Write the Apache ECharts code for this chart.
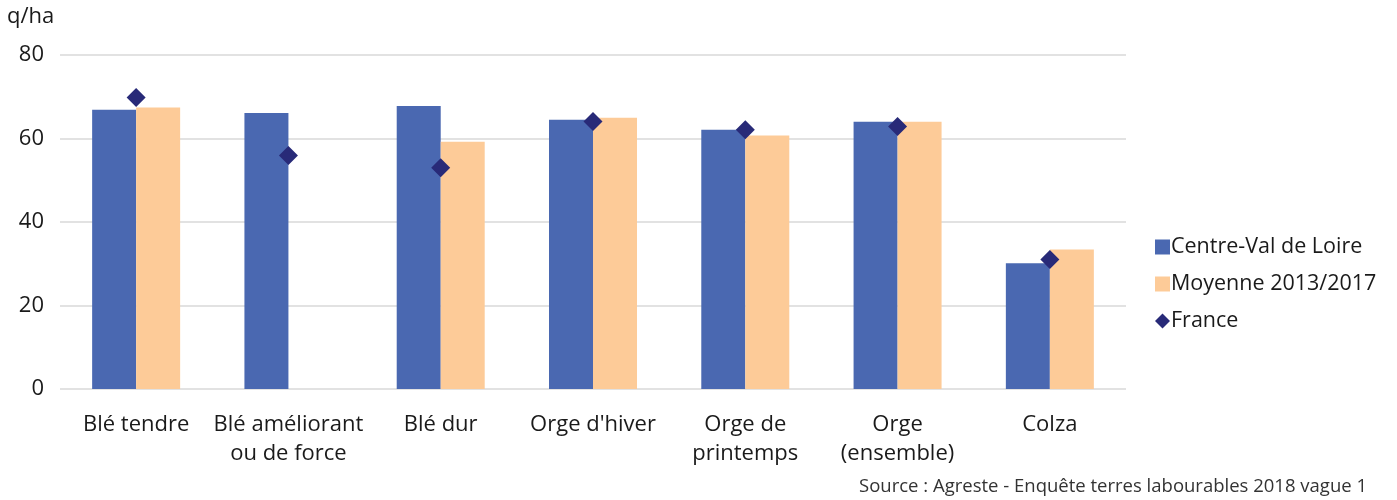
<!DOCTYPE html>
<html><head><meta charset="utf-8">
<script src="https://cdn.jsdelivr.net/npm/echarts@6/dist/echarts.min.js"></script>
<style>html,body{margin:0;padding:0;background:#fff}#c{width:1397px;height:500px}</style>
</head><body><div id="c"></div>
<script>
const categories = ["Blé tendre", "Blé améliorant\nou de force", "Blé dur", "Orge d'hiver", "Orge de\nprintemps", "Orge\n(ensemble)", "Colza"];
const centreValues = [66.9, 66.1, 67.8, 64.5, 62.1, 64.0, 30.1];
const moyenneValues = [67.4, null, 59.2, 65.0, 60.7, 64.0, 33.4];
const franceValues = [69.8, 55.9, 53.0, 64.1, 62.1, 62.9, 31.0];
const seriesNames = ["Centre-Val de Loire", "Moyenne 2013/2017", "France"];

const font = "'Open Sans', 'Noto Sans', sans-serif";
const chart = echarts.init(document.getElementById('c'), null, {renderer: 'canvas'});
chart.setOption({
  animation: false,
  textStyle: {fontFamily: font},
  grid: {left: 60, right: 271, top: 55, bottom: 111, containLabel: false},
  graphic: [
    {type: 'text', left: 7, top: 6, style: {text: 'q/ha', font: "22px 'Open Sans'", fill: '#1a1a1a'}},
    {type: 'text', right: 30, top: 477, style: {text: 'Source : Agreste - Enquête terres labourables 2018 vague 1', font: "18.5px 'Open Sans'", fill: '#333'}}
  ],
  legend: {
    orient: 'vertical', left: 1150, top: 231, itemGap: 15, itemWidth: 15, itemHeight: 15,
    textStyle: {fontSize: 21.5, color: '#1a1a1a', fontFamily: font, padding: [0, 0, 0, -4]},
    data: [
      {name: seriesNames[0], icon: 'rect'},
      {name: seriesNames[1], icon: 'rect'},
      {name: seriesNames[2], icon: 'diamond'}
    ]
  },
  xAxis: {
    type: 'category', data: categories,
    axisLine: {show: false}, axisTick: {show: false},
    axisLabel: {fontSize: 22, color: '#1a1a1a', lineHeight: 29, margin: 21, interval: 0, fontFamily: font}
  },
  yAxis: {
    type: 'value', min: 0, max: 80, interval: 20,
    axisLine: {show: false}, axisTick: {show: false},
    axisLabel: {fontSize: 22, color: '#1a1a1a', margin: 16, fontFamily: font},
    splitLine: {lineStyle: {color: '#d9d9d9', width: 1.5}}
  },
  series: [
    {name: seriesNames[0], type: 'bar', data: centreValues, barWidth: 44, barGap: '0%', itemStyle: {color: '#4a68b1'}},
    {name: seriesNames[1], type: 'bar', data: moyenneValues, barWidth: 44, itemStyle: {color: '#fdcb98'}},
    {name: seriesNames[2], type: 'scatter', data: franceValues, symbol: 'diamond', symbolSize: [19, 19], itemStyle: {color: '#282a78', opacity: 1}, z: 5}
  ]
});
</script></body></html>
